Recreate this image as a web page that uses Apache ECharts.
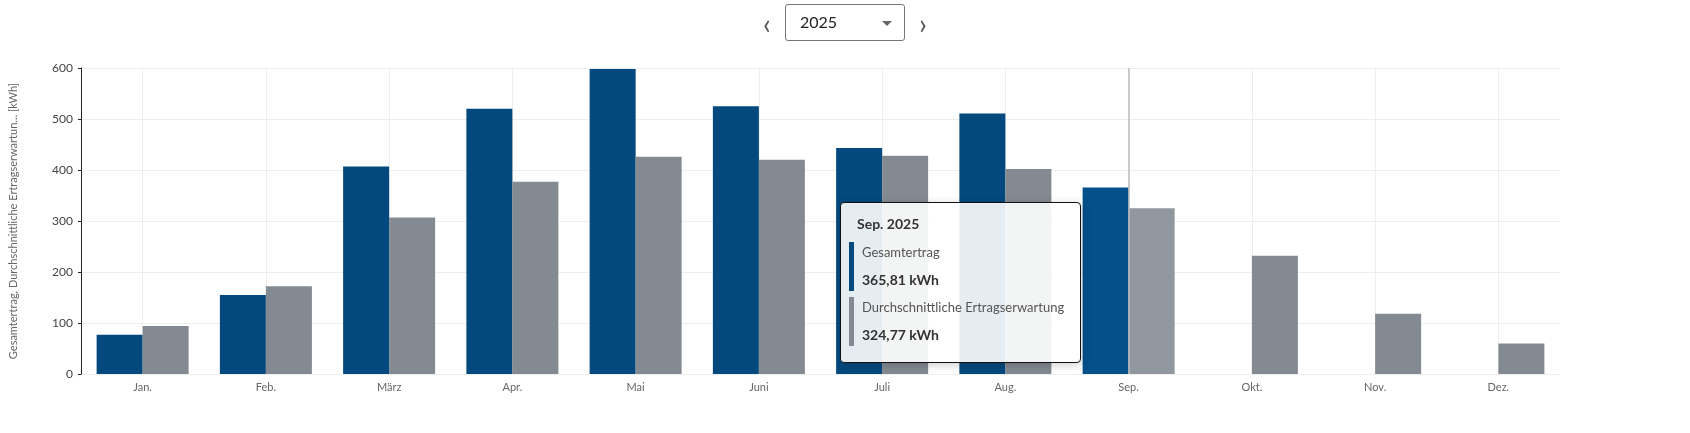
<!DOCTYPE html>
<html><head><meta charset="utf-8">
<script src="https://cdn.jsdelivr.net/npm/echarts@6/dist/echarts.min.js"></script>
<style>
body{margin:0;background:#fff;font-family:Lato,"Open Sans",sans-serif;}
#bar{position:absolute;top:4px;left:0;width:1690px;text-align:center;height:40px;}
.sel{display:inline-block;vertical-align:middle;width:120px;height:37px;border:1px solid #777;border-radius:3px;box-sizing:border-box;text-align:left;padding:7px 14px;font-size:16px;color:#222;position:relative;}
.sel:after{content:"";position:absolute;right:12px;top:16px;border:5px solid transparent;border-top:5px solid #666;}
.arr{display:inline-block;vertical-align:middle;font-size:28px;line-height:30px;color:#555;margin:0 14px;}
#main{position:absolute;top:0;left:0;width:1690px;height:433px;}
</style></head><body>
<div id="main"></div>
<div id="bar"><span class="arr">&#8249;</span><span class="sel">2025</span><span class="arr">&#8250;</span></div>
<script>
// Monatswerte 2025
var months=['Jan.','Feb.','März','Apr.','Mai','Juni','Juli','Aug.','Sep.','Okt.','Nov.','Dez.'];
var gesamt=[77,155,407,520,598,525,443,511,365.81,null,null,null];
var erwartung=[94,172,307,377,426,420,428,402,324.77,232,118,60];
var yTicks=[0,100,200,300,400,500,600];

var myChart=echarts.init(document.getElementById('main'));
function fmt(v){return v.toFixed(2).replace('.',',')+' kWh';}
myChart.setOption({
  animation:false,
  textStyle:{fontFamily:'Lato'},
  grid:{left:75,right:130,top:68,bottom:59},
  tooltip:{trigger:'axis',axisPointer:{type:'line',lineStyle:{color:'#bbb',width:1.5,type:'solid'}},
    backgroundColor:'rgba(255,255,255,0.9)',borderColor:'#111',borderWidth:1,padding:[10,16],
    position:[840,202],
    formatter:function(p){
      var h='<div style="font-weight:bold;font-size:14px;color:#333;margin-bottom:8px;">'+p[0].name+' 2025</div>';
      p.forEach(function(s){
        if(s.value==null)return;
        h+='<div style="border-left:5px solid '+s.color+';padding-left:8px;margin:6px 0 6px -8px;font-size:13px;color:#555;">'+s.seriesName+
        '<br><b style="display:inline-block;margin-top:6px;color:#333;font-size:14px;">'+fmt(s.value)+'</b></div>';
      });
      return h;
    }},
  xAxis:{type:'category',data:months,boundaryGap:true,
    axisLine:{show:false},axisTick:{show:false,alignWithLabel:true},
    axisLabel:{color:'#666',fontSize:11},
    splitLine:{show:true,interval:0,alignWithLabel:true,lineStyle:{color:'#eee'}}},
  yAxis:{type:'value',min:yTicks[0],max:yTicks[yTicks.length-1],interval:100,
    name:'Gesamtertrag, Durchschnittliche Ertragserwartun... [kWh]',nameLocation:'middle',nameGap:62,
    nameTextStyle:{color:'#666',fontSize:11},
    axisLine:{show:true,lineStyle:{color:'#222'}},axisTick:{show:true,length:3},
    axisLabel:{color:'#444',fontSize:12},splitLine:{lineStyle:{color:'#eee'}}},
  series:[
    {name:'Gesamtertrag',type:'bar',data:gesamt,barWidth:46,barGap:'0%',itemStyle:{color:'#03497e'}},
    {name:'Durchschnittliche Ertragserwartung',type:'bar',data:erwartung,barWidth:46,itemStyle:{color:'#838a91'}}
  ]
});
myChart.dispatchAction({type:'showTip',seriesIndex:0,dataIndex:8});
</script>
</body></html>
